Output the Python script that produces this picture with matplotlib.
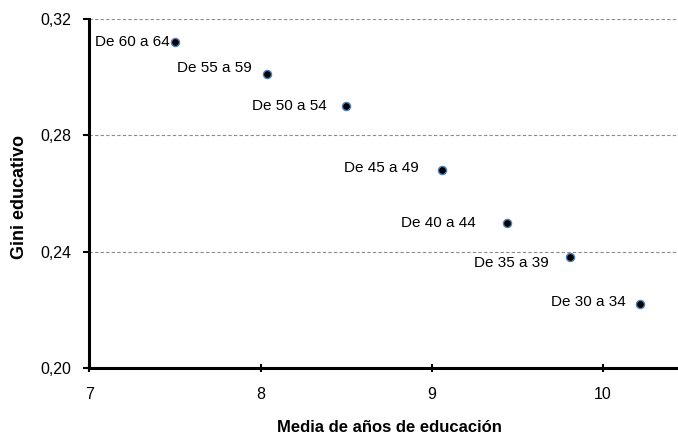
import matplotlib
matplotlib.use("Agg")
import matplotlib.pyplot as plt

plt.rcParams['font.family'] = ['Liberation Sans', 'DejaVu Sans']

# datos: media de años de educación vs gini educativo, por cohorte
grupos = ["De 60 a 64", "De 55 a 59", "De 50 a 54", "De 45 a 49",
          "De 40 a 44", "De 35 a 39", "De 30 a 34"]
media_anios = [7.50, 8.04, 8.50, 9.06, 9.44, 9.81, 10.22]
gini = [0.312, 0.301, 0.290, 0.268, 0.250, 0.238, 0.222]

x_ticks = [7, 8, 9, 10]
y_ticks = [0.20, 0.24, 0.28, 0.32]

# desplazamiento de las etiquetas (pixeles)
label_offsets = [(-5, 0), (-16, 6), (-19, 0), (-23, 2), (-31, 0), (-21, -6), (-15, 2)]

fig = plt.figure(figsize=(6.78, 4.37), dpi=100)
ax = fig.add_axes([0.132, 0.158, 0.868, 0.7985])

ax.set_xlim(7, 10.44)
ax.set_ylim(0.20, 0.32)

for y in y_ticks[1:]:
    ax.axhline(y, color='#8c8c8c', lw=0.8, ls=(0, (3, 2)), zorder=1)

ax.scatter(media_anios, gini, s=34, c='black', edgecolors='#4f81bd',
           linewidths=1.0, zorder=3, clip_on=False)

for g, xv, yv, off in zip(grupos, media_anios, gini, label_offsets):
    ax.annotate(g, (xv, yv), xytext=off, textcoords='offset pixels',
                ha='right', va='center', fontsize=11)

for side in ['top', 'right']:
    ax.spines[side].set_visible(False)
for side in ['left', 'bottom']:
    ax.spines[side].set_linewidth(2.2)

ax.set_xticks(x_ticks)
ax.set_xticklabels([str(v) for v in x_ticks])
ax.set_yticks(y_ticks)
ax.set_yticklabels([f"{v:.2f}".replace('.', ',') for v in y_ticks])
ax.tick_params(axis='x', direction='inout', length=6, width=1.5, pad=11, labelsize=11.5)
ax.tick_params(axis='y', direction='out', length=4, width=1.5, pad=9, labelsize=11.5)

ax.set_xlabel("Media de años de educación", fontsize=12, fontweight='bold')
ax.xaxis.set_label_coords(0.51, -0.148)
ax.set_ylabel("Gini educativo", fontsize=13, fontweight='bold')
ax.yaxis.set_label_coords(-0.104, 0.49)

fig.savefig("out.png", dpi=100)
